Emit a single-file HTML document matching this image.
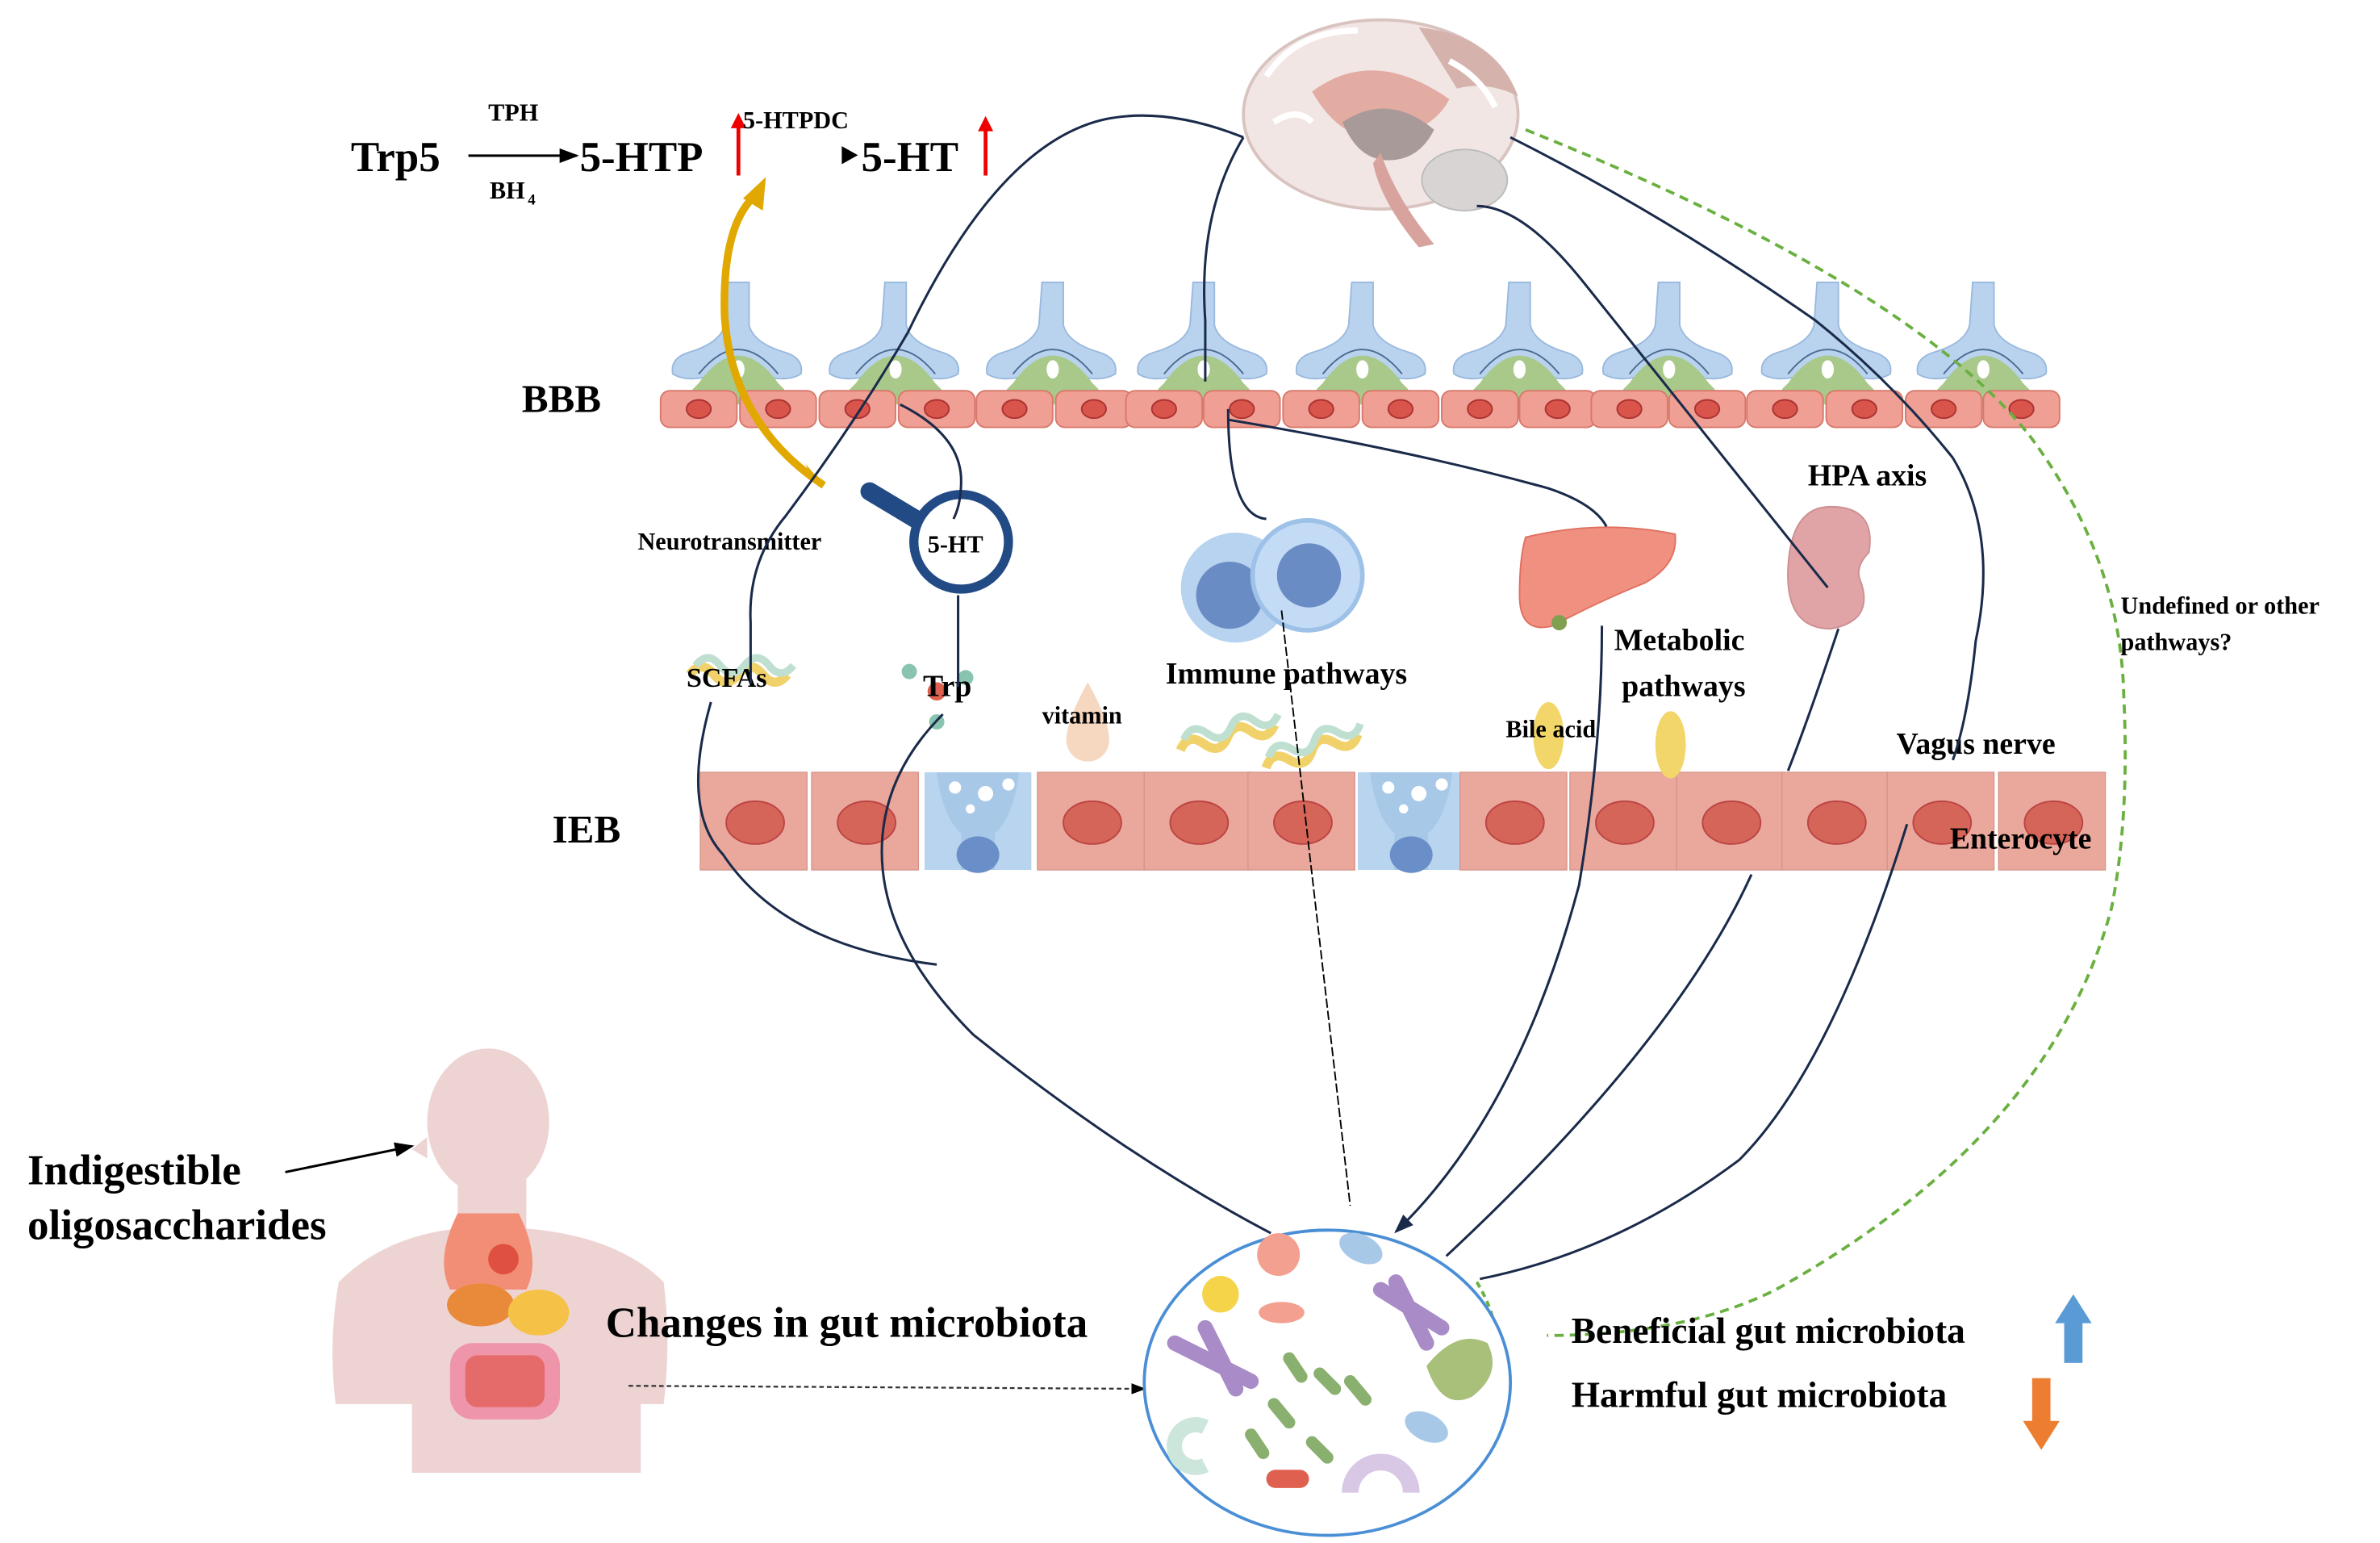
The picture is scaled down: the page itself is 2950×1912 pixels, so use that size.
<!DOCTYPE html>
<html><head><meta charset="utf-8"><style>
html,body{margin:0;padding:0;background:#fff}
svg{display:block}
text{font-family:"Liberation Serif",serif;font-weight:bold;fill:#000}
</style></head><body>
<svg width="2950" height="1912" viewBox="0 0 1560 1011" preserveAspectRatio="none" xmlns="http://www.w3.org/2000/svg">
<defs>
<marker id="ah" markerWidth="8" markerHeight="8" refX="7" refY="4" orient="auto"><path d="M0,1 L8,4 L0,7 z" fill="#000"/></marker>
<marker id="ahn" markerWidth="8" markerHeight="8" refX="7" refY="4" orient="auto"><path d="M0,1 L8,4 L0,7 z" fill="#1a2a4a"/></marker>
<g id="astro">
<path d="M-7,0 h14 v28 q3,12 24,18 q12,4 10,14 q-8,5 -22,2 q-12,-3 -20,0 q-8,-3 -20,0 q-14,3 -22,-2 q-2,-10 10,-14 q21,-6 24,-18z" fill="#b9d3ee" stroke="#9ab9de" stroke-width="1"/>
<path d="M-26,66 q26,-36 52,0 l4,4 v10 h-60 v-10z" fill="#a9c98a"/>
<path d="M-26,60 q26,-32 52,0" fill="none" stroke="#4a6a90" stroke-width="1"/>
<ellipse cx="0" cy="57" rx="4" ry="6" fill="#fff"/>
</g>
<g id="endo"><rect x="0" y="0" width="50" height="24" rx="6" fill="#ef9f93" stroke="#d8786c" stroke-width="1"/><ellipse cx="25" cy="12" rx="8" ry="6" fill="#d9544a" stroke="#a33" stroke-width="1"/></g>
<g id="ent"><rect x="0" y="0" width="70" height="64" fill="#eaa79b" stroke="#d69488" stroke-width="0.7"/><ellipse cx="36" cy="33" rx="19" ry="14" fill="#d56558" stroke="#b44" stroke-width="1"/></g>
<g id="lcell"><rect x="0" y="0" width="70" height="64" fill="#b8d4ee"/><path d="M8,0 q4,30 16,40 v24 h22 v-24 q12,-10 16,-40" fill="#a8c8e8"/><ellipse cx="35" cy="54" rx="14" ry="12" fill="#6a8fc8"/><circle cx="20" cy="10" r="4" fill="#fff"/><circle cx="40" cy="14" r="5" fill="#fff"/><circle cx="55" cy="8" r="4" fill="#fff"/><circle cx="30" cy="24" r="3" fill="#fff"/></g>
<g id="helix"><path d="M0,14 q8,-10 16,0 q8,10 16,0 q8,-10 16,0 q8,10 16,0" fill="none" stroke="#f1d26a" stroke-width="6"/><path d="M4,8 q8,-10 16,0 q8,10 16,0 q8,-10 16,0 q8,10 16,0" fill="none" stroke="#bfe0d0" stroke-width="5"/></g>
</defs>

<text x="230" y="112" font-size="28">Trp5</text>
<text x="320" y="79" font-size="16">TPH</text>
<line x1="307" y1="102" x2="378" y2="102" stroke="#000" stroke-width="1.6" marker-end="url(#ah)"/>
<text x="321" y="130" font-size="16">BH</text><text x="346" y="134" font-size="10">4</text>
<text x="380" y="112" font-size="28">5-HTP</text>
<line x1="484" y1="115" x2="484" y2="82" stroke="#e00" stroke-width="2.5"/><path d="M479,84 L484,74 L489,84z" fill="#e00"/>
<text x="487" y="84" font-size="16">5-HTPDC</text>
<text x="548" y="112" font-size="28">‣5-HT</text>
<line x1="646" y1="115" x2="646" y2="84" stroke="#e00" stroke-width="2.5"/><path d="M641,86 L646,76 L651,86z" fill="#e00"/>

<g>
<ellipse cx="905" cy="75" rx="90" ry="62" fill="#f1e6e4" stroke="#d8c3bf" stroke-width="2"/>
<path d="M930,18 q50,5 65,45 q-20,-10 -40,-5 z" fill="#d6b2ad"/>
<path d="M860,60 q40,-30 90,5 q-10,20 -40,25 q-30,5 -50,-30z" fill="#e3aca3"/>
<path d="M880,80 q30,-20 60,5 q-10,20 -30,20 q-20,0 -30,-25z" fill="#a89a98"/>
<path d="M905,100 q10,30 35,60 l-10,2 q-25,-30 -30,-55z" fill="#d8a39d"/>
<ellipse cx="960" cy="118" rx="28" ry="20" fill="#d9d4d4" stroke="#bbb"/>
<path d="M830,50 q20,-30 60,-30 M835,80 q15,-10 25,0 M950,40 q20,10 30,30" fill="none" stroke="#fff" stroke-width="4"/>
</g>

<text x="342" y="270" font-size="26">BBB</text>
<g>
<use href="#astro" x="484" y="185"/><use href="#astro" x="587" y="185"/><use href="#astro" x="690" y="185"/><use href="#astro" x="789" y="185"/><use href="#astro" x="893" y="185"/><use href="#astro" x="996" y="185"/><use href="#astro" x="1094" y="185"/><use href="#astro" x="1198" y="185"/><use href="#astro" x="1300" y="185"/>
</g>
<g>
<use href="#endo" x="433" y="256"/><use href="#endo" x="485" y="256"/><use href="#endo" x="537" y="256"/><use href="#endo" x="589" y="256"/><use href="#endo" x="640" y="256"/><use href="#endo" x="692" y="256"/><use href="#endo" x="738" y="256"/><use href="#endo" x="789" y="256"/><use href="#endo" x="841" y="256"/><use href="#endo" x="893" y="256"/><use href="#endo" x="945" y="256"/><use href="#endo" x="996" y="256"/><use href="#endo" x="1043" y="256"/><use href="#endo" x="1094" y="256"/><use href="#endo" x="1145" y="256"/><use href="#endo" x="1197" y="256"/><use href="#endo" x="1249" y="256"/><use href="#endo" x="1300" y="256"/>
</g>

<text x="362" y="552" font-size="26">IEB</text>
<g>
<use href="#ent" x="459" y="506"/><use href="#ent" x="532" y="506"/><use href="#lcell" x="606" y="506"/><use href="#ent" x="680" y="506"/><use href="#ent" x="750" y="506"/><use href="#ent" x="818" y="506"/><use href="#lcell" x="890" y="506"/><use href="#ent" x="957" y="506"/><use href="#ent" x="1029" y="506"/><use href="#ent" x="1099" y="506"/><use href="#ent" x="1168" y="506"/><use href="#ent" x="1237" y="506"/><use href="#ent" x="1310" y="506"/>
</g>

<path d="M540,318 q-60,-40 -65,-110 q-2,-60 20,-80" fill="none" stroke="#e0a800" stroke-width="5"/>
<path d="M487,130 L502,116 L500,138z" fill="#e0a800"/>
<path d="M540,318 l-12,-14 l4,10z" fill="#e0a800"/>

<line x1="570" y1="322" x2="600" y2="340" stroke="#224a85" stroke-width="12" stroke-linecap="round"/>
<circle cx="630" cy="355" r="31" fill="#fff" stroke="#224a85" stroke-width="6"/>
<text x="608" y="362" font-size="16">5-HT</text>
<text x="418" y="360" font-size="16">Neurotransmitter</text>

<circle cx="810" cy="385" r="36" fill="#b7d3f0"/><circle cx="806" cy="390" r="22" fill="#6a8cc5"/>
<circle cx="857" cy="377" r="36" fill="#c3dbf4" stroke="#9ec1e8" stroke-width="3"/><circle cx="858" cy="377" r="21" fill="#6a8cc5"/>
<text x="764" y="448" font-size="20">Immune pathways</text>

<path d="M1000,352 q50,-12 98,-2 q2,20 -20,32 q-30,12 -60,28 q-22,6 -22,-20 q0,-25 4,-38z" fill="#f09080" stroke="#e07060" stroke-width="1"/>
<circle cx="1022" cy="408" r="5" fill="#7fa050"/>
<text x="1058" y="426" font-size="20">Metabolic</text>
<text x="1063" y="456" font-size="20">pathways</text>
<path d="M1200,332 q30,0 25,30 q-10,10 -5,20 q8,25 -20,30 q-30,0 -28,-40 q2,-40 28,-40z" fill="#e0a4a6" stroke="#cc8f92"/>
<text x="1185" y="318" font-size="20">HPA axis</text>
<text x="1390" y="402" font-size="16">Undefined or other</text>
<text x="1390" y="426" font-size="16">pathways?</text>
<text x="1243" y="494" font-size="20">Vagus nerve</text>
<text x="1278" y="556" font-size="20">Enterocyte</text>

<use href="#helix" x="452" y="428"/>
<g transform="translate(770,478) rotate(-15)"><use href="#helix" x="0" y="0"/></g>
<g transform="translate(825,490) rotate(-20)"><use href="#helix" x="0" y="0"/></g>
<text x="450" y="450" font-size="18">SCFAs</text>
<circle cx="596" cy="440" r="5" fill="#88c4b0"/><circle cx="614" cy="453" r="6" fill="#e06050"/><circle cx="614" cy="473" r="5" fill="#88c4b0"/><circle cx="633" cy="444" r="5" fill="#88c4b0"/>
<text x="605" y="456" font-size="20">Trp</text>
<path d="M713,447 q14,25 14,38 a14,14 0 0 1 -28,0 q0,-13 14,-38z" fill="#f6d7c0"/>
<text x="683" y="474" font-size="16">vitamin</text>
<ellipse cx="1015" cy="482" rx="10" ry="22" fill="#f2d66a"/><ellipse cx="1095" cy="488" rx="10" ry="22" fill="#f2d66a"/>
<text x="987" y="483" font-size="16">Bile acid</text>

<g fill="none" stroke="#1a2a4a" stroke-width="1.6">
<path d="M815,90 q-50,-20 -90,-12 q-70,15 -130,140 q-35,60 -80,120 q-25,30 -23,70 v40"/>
<path d="M466,460 q-20,70 8,100 q40,60 140,72"/>
<path d="M815,90 q-30,50 -25,120 v40"/>
<path d="M590,265 q40,20 40,50 q0,15 -5,25"/>
<path d="M628,390 v60"/>
<path d="M618,468 q-40,40 -40,90 q0,60 60,120 q100,80 195,130"/>
<path d="M805,268 q0,70 25,72"/>
<path d="M805,275 q120,20 210,45 q30,10 38,25"/>
<path d="M1050,410 q0,80 -15,170 q-40,150 -120,227" marker-end="url(#ahn)"/>
<path d="M968,135 q30,0 70,50 q80,100 160,200"/>
<path d="M1205,412 q-20,60 -33,93"/>
<path d="M990,90 q100,50 200,120 q50,40 90,90 q30,50 15,120 q-5,50 -15,78"/>
<path d="M1250,540 q-50,160 -110,220 q-80,60 -170,78"/>
<path d="M1148,573 q-50,110 -200,250"/>
</g>
<path d="M840,400 L885,790" fill="none" stroke="#000" stroke-width="1" stroke-dasharray="6,2"/>

<path d="M1000,85 q250,100 330,200 q60,80 62,170 q4,80 -8,140 q-40,150 -220,250 q-60,30 -150,30" fill="none" stroke="#6ab040" stroke-width="2" stroke-dasharray="6,4"/>
<path d="M968,840 q12,20 12,35" fill="none" stroke="#6ab040" stroke-width="2" stroke-dasharray="4,3"/>

<g fill="#eed3d3">
<ellipse cx="320" cy="735" rx="40" ry="48"/>
<path d="M300,770 h45 v35 q60,5 90,35 q5,40 0,80 l-15,0 v45 h-150 v-45 l-50,0 q-5,-40 2,-80 q30,-30 78,-35z"/>
<path d="M280,745 l-10,8 l10,6z"/>
</g>
<path d="M300,795 q-15,30 -5,50 h30 v-50 z M340,795 q15,30 5,50 h-20 v-50z" fill="#f18e75"/>
<ellipse cx="330" cy="825" rx="10" ry="10" fill="#e05040"/>
<ellipse cx="315" cy="855" rx="22" ry="14" fill="#e88a3a"/>
<ellipse cx="353" cy="860" rx="20" ry="15" fill="#f5c247"/>
<rect x="295" y="880" width="72" height="50" rx="15" fill="#ef95aa"/>
<rect x="305" y="888" width="52" height="34" rx="8" fill="#e56a6a"/>
<text x="18" y="776" font-size="28">Indigestible</text>
<text x="18" y="812" font-size="28">oligosaccharides</text>
<line x1="187" y1="768" x2="270" y2="751" stroke="#000" stroke-width="1.6" marker-end="url(#ah)"/>
<text x="397" y="876" font-size="28">Changes in gut microbiota</text>
<line x1="412" y1="908" x2="750" y2="910" stroke="#333" stroke-width="1.2" stroke-dasharray="3,2" marker-end="url(#ah)"/>

<ellipse cx="870" cy="906" rx="120" ry="100" fill="#fff" stroke="#4a8fd6" stroke-width="2"/>
<circle cx="838" cy="822" r="14" fill="#f3a090"/>
<ellipse cx="892" cy="818" rx="15" ry="9" fill="#a8c8e8" transform="rotate(25 892 818)"/>
<circle cx="800" cy="848" r="12" fill="#f5d44a"/>
<ellipse cx="840" cy="860" rx="15" ry="7" fill="#f3a090"/>
<path d="M770,880 l50,25 M790,870 l20,40 M905,845 l40,25 M915,840 l20,40" stroke="#a98bc7" stroke-width="10" stroke-linecap="round"/>
<path d="M935,895 q20,-25 40,-15 q10,20 -10,35 q-20,10 -30,-20z" fill="#a8c07a"/>
<path d="M845,890 l8,12 M865,900 l10,10 M835,920 l10,12 M885,905 l10,12 M820,940 l8,12 M860,945 l10,10" stroke="#8ab070" stroke-width="8" stroke-linecap="round"/>
<path d="M790,935 a14,14 0 1 0 0,25" fill="none" stroke="#cde6dc" stroke-width="10"/>
<ellipse cx="935" cy="935" rx="15" ry="9" fill="#a8c8e8" transform="rotate(25 935 935)"/>
<rect x="830" y="963" width="28" height="12" rx="6" fill="#e06050"/>
<path d="M885,978 a20,20 0 0 1 40,0" fill="none" stroke="#d9c7e6" stroke-width="11"/>

<text x="1030" y="880" font-size="24">Beneficial gut microbiota</text>
<text x="1030" y="922" font-size="24">Harmful gut microbiota</text>
<rect x="1353" y="865" width="12" height="28" fill="#5b9bd5"/><path d="M1347,867 L1359,848 L1371,867z" fill="#5b9bd5"/>
<rect x="1332" y="903" width="12" height="30" fill="#ed7d31"/><path d="M1326,931 L1338,950 L1350,931z" fill="#ed7d31"/>
</svg>
</body></html>
